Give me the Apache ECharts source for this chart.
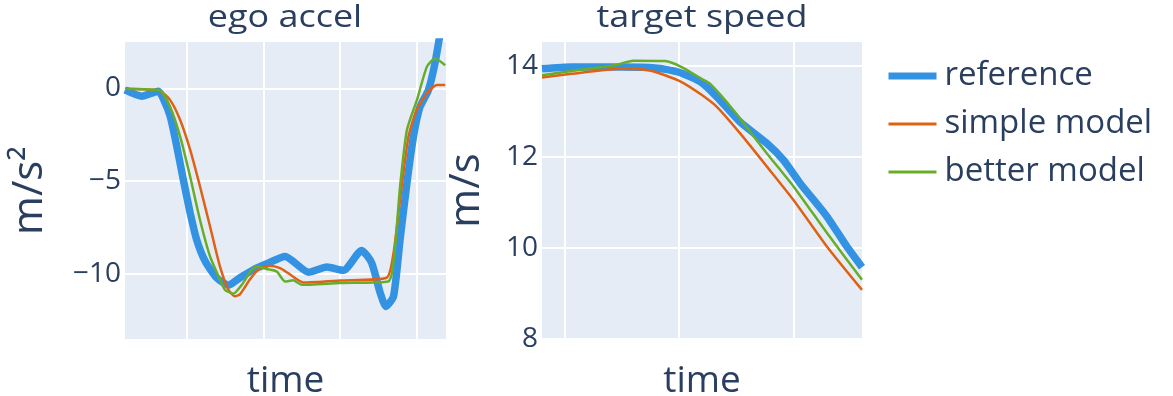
<!DOCTYPE html>
<html><head><meta charset="utf-8">
<script src="https://cdn.jsdelivr.net/npm/echarts@6/dist/echarts.min.js"></script>
<style>html,body{margin:0;padding:0;background:#fff}#c{width:1173px;height:396px}</style>
</head><body><div id="c"></div>
<script>
const seriesNames = ['reference', 'simple model', 'better model'];
const panelTitles = ['ego accel', 'target speed'];
const yTitles = ['m/s²', 'm/s'];
const xTitle = 'time';

// left panel: ego acceleration [time, m/s^2]
const refAccel = [[0.39,-0.08],[0.83,-0.42],[1.26,-0.15],[1.40,-0.6],[1.57,-1.5],[1.74,-3.1],[1.91,-4.9],[2.09,-6.7],[2.26,-8.15],[2.48,-9.3],[2.78,-10.2],[3.09,-10.6],[3.39,-10.2],[3.74,-9.77],[4.09,-9.45],[4.57,-9.05],[5.18,-9.9],[5.66,-9.62],[6.09,-9.8],[6.57,-8.73],[6.83,-9.4],[7.05,-11.0],[7.20,-11.75],[7.40,-11.2],[7.57,-8.15],[7.75,-5.1],[7.92,-2.6],[8.09,-1.0],[8.31,-0.1],[8.48,1.34],[8.67,3.6]];
const simpleAccel = [[0.39,-0.02],[0.91,-0.05],[1.30,-0.13],[1.57,-0.63],[1.83,-1.7],[2.09,-3.3],[2.35,-5.3],[2.61,-7.44],[2.87,-9.6],[3.09,-10.85],[3.26,-11.2],[3.39,-11.1],[3.65,-10.3],[3.87,-9.77],[4.18,-9.55],[4.44,-9.68],[4.65,-9.95],[5.05,-10.45],[6.0,-10.35],[7.22,-10.2],[7.40,-8.87],[7.57,-6.0],[7.79,-2.6],[8.0,-1.17],[8.27,-0.27],[8.53,0.18],[8.75,0.18]];
const betterAccel = [[0.39,-0.02],[0.91,-0.05],[1.30,-0.09],[1.57,-1.0],[1.83,-2.6],[2.09,-4.75],[2.35,-7.1],[2.61,-9.05],[2.87,-10.3],[3.0,-10.85],[3.22,-11.06],[3.44,-10.58],[3.70,-9.77],[3.83,-9.6],[4.09,-9.73],[4.35,-9.86],[4.57,-10.4],[4.78,-10.34],[5.0,-10.58],[6.0,-10.48],[7.26,-10.4],[7.44,-8.5],[7.57,-5.3],[7.75,-2.24],[8.01,-0.63],[8.27,1.16],[8.48,1.61],[8.75,1.25]];

// right panel: target speed [time, m/s]
const refSpeed = [[4.0,13.94],[5.29,13.98],[7.48,13.98],[8.94,13.96],[9.96,13.87],[10.95,13.65],[11.66,13.32],[12.67,12.77],[13.84,12.30],[14.57,11.93],[15.30,11.42],[16.47,10.69],[17.34,10.03],[18.0,9.58]];
const simpleSpeed = [[4.0,13.75],[5.29,13.83],[7.48,13.94],[8.65,13.91],[9.38,13.80],[10.11,13.65],[10.95,13.38],[11.66,13.10],[12.67,12.52],[13.84,11.79],[15.01,11.05],[16.47,10.03],[18.0,9.08]];
const betterSpeed = [[4.0,13.80],[5.29,13.89],[7.19,14.02],[7.99,14.12],[9.38,14.11],[10.11,13.98],[10.98,13.72],[11.36,13.61],[12.38,13.03],[13.84,12.08],[15.01,11.35],[16.47,10.33],[18.0,9.30]];

const colors = ['#3492e3', '#df6214', '#68ad2a'];
const widths = [7.5, 2.5, 2.5];
const textColor = '#2a3f5f';
const FONT = 'Open Sans';

const chart = echarts.init(document.getElementById('c'), null, {renderer: 'canvas'});

const minus = v => String(v).replace('-', '\u2212');

function xAxisCfg(idx, min, max, split) {
  return {
    type: 'value', gridIndex: idx, min: min, max: max, splitNumber: split,
    axisLine: {show: false}, axisTick: {show: false}, axisLabel: {show: false},
    splitLine: {show: true, showMinLine: false, showMaxLine: false, lineStyle: {color: '#ffffff', width: 2}},
    name: xTitle, nameLocation: 'middle', nameGap: 24,
    nameTextStyle: {fontSize: 37, color: textColor, fontFamily: FONT}
  };
}
function yAxisCfg(idx, min, max, extra, name, gap) {
  return Object.assign({
    type: 'value', gridIndex: idx, min: min, max: max,
    axisLine: {show: false}, axisTick: {show: false},
    axisLabel: {fontSize: 28, color: textColor, fontFamily: FONT, margin: 4, showMinLabel: extra.showMin, showMaxLabel: false, formatter: minus},
    splitLine: {show: true, showMinLine: extra.showMin, showMaxLine: false, lineStyle: {color: '#ffffff', width: 2}},
    name: name, nameLocation: 'middle', nameGap: gap,
    nameTextStyle: {fontSize: 42, color: textColor, fontFamily: FONT}
  }, extra.opts);
}

const data = [[refAccel, simpleAccel, betterAccel], [refSpeed, simpleSpeed, betterSpeed]];
const series = [];
for (let g = 0; g < 2; g++) {
  for (let s = 0; s < 3; s++) {
    series.push({
      type: 'line', name: seriesNames[s], xAxisIndex: g, yAxisIndex: g,
      data: data[g][s], symbol: 'none', showSymbol: false, smooth: 0.2, clip: true,
      lineStyle: {color: colors[s], width: widths[s]}, itemStyle: {color: colors[s]},
      emphasis: {disabled: true}, animation: false
    });
  }
}

chart.setOption({
  animation: false,
  backgroundColor: '#ffffff',
  grid: [
    {left: 125, top: 42, width: 321, height: 297, show: true, backgroundColor: '#E5ECF6', borderWidth: 0, outerBoundsMode: 'none', containLabel: false},
    {left: 542, top: 42, width: 320, height: 297, show: true, backgroundColor: '#E5ECF6', borderWidth: 0, outerBoundsMode: 'none', containLabel: false}
  ],
  xAxis: [xAxisCfg(0, 0.39, 8.77, 4), xAxisCfg(1, 4, 18, 3)],
  yAxis: [
    yAxisCfg(0, -13.5, 2.5, {showMin: false, opts: {splitNumber: 3}}, yTitles[0], 74),
    yAxisCfg(1, 8, 14.53, {showMin: true, opts: {interval: 2}}, yTitles[1], 54)
  ],
  legend: {
    orient: 'vertical', left: 885, top: 56, padding: 0,
    itemWidth: 48, itemHeight: 14, itemGap: 8,
    data: seriesNames.map((n, i) => ({name: n, itemStyle: {opacity: 0}, lineStyle: {width: i === 0 ? 7 : 3, color: colors[i]}})),
    textStyle: {fontSize: 33, color: textColor, fontFamily: FONT, lineHeight: 40, padding: [0, 0, 0, 3]}
  },
  graphic: [
    {type: 'text', x: 285, y: 18, scaleX: 1.16, silent: true,
     style: {text: panelTitles[0], fontSize: 31, fontFamily: FONT, fill: textColor, textAlign: 'center', textVerticalAlign: 'middle'}},
    {type: 'text', x: 702, y: 18, scaleX: 1.16, silent: true,
     style: {text: panelTitles[1], fontSize: 31, fontFamily: FONT, fill: textColor, textAlign: 'center', textVerticalAlign: 'middle'}}
  ],
  series: series
});
</script></body></html>
